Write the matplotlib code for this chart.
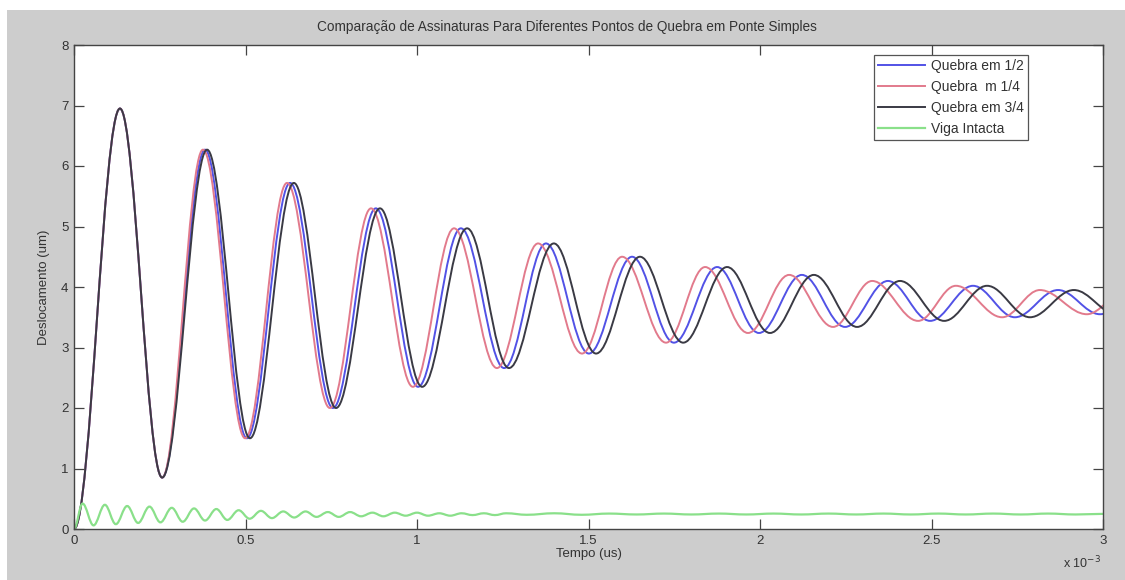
import matplotlib
matplotlib.use('Agg')
import matplotlib.pyplot as plt
from matplotlib.path import Path
from matplotlib.patches import PathPatch, Rectangle
from matplotlib.lines import Line2D

plt.rcParams['font.family'] = ['Liberation Sans', 'DejaVu Sans']

title = "Comparação de Assinaturas Para Diferentes Pontos de Quebra em Ponte Simples"
xlabel = "Tempo (us)"
ylabel = "Deslocamento (um)"
series_labels = ["Quebra em 1/2", "Quebra  m 1/4", "Quebra em 3/4", "Viga Intacta"]
x_ticks = [0, 0.5, 1, 1.5, 2, 2.5, 3]
x_tick_labels = ['0', '0.5', '1', '1.5', '2', '2.5', '3']
y_ticks = [0, 1, 2, 3, 4, 5, 6, 7, 8]
x_multiplier = r'x 10$^{-3}$'

# shared extrema values of the three damaged-beam signals
peak_vals = [6.95, 6.27, 5.72, 5.30, 4.97, 4.72, 4.50, 4.33, 4.20, 4.10, 4.02, 3.95, 3.90]
trough_vals = [0.85, 1.50, 2.00, 2.35, 2.66, 2.90, 3.08, 3.24, 3.34, 3.44, 3.50, 3.55, 3.58]

# extrema times (x 1e-3 s)
half_peaks = [0.134, 0.382, 0.630, 0.880, 1.128, 1.376, 1.627, 1.875, 2.122, 2.373, 2.621, 2.869, 3.117]
half_troughs = [0.257, 0.504, 0.755, 1.003, 1.254, 1.501, 1.749, 1.997, 2.248, 2.496, 2.743, 2.991, 3.240]
quarter_peaks = [0.134, 0.376, 0.621, 0.866, 1.108, 1.353, 1.598, 1.840, 2.085, 2.327, 2.571, 2.816, 3.060]
quarter_troughs = [0.257, 0.499, 0.746, 0.988, 1.233, 1.481, 1.726, 1.965, 2.213, 2.461, 2.706, 2.953, 3.190]
threeq_peaks = [0.134, 0.388, 0.641, 0.892, 1.146, 1.399, 1.650, 1.904, 2.157, 2.408, 2.662, 2.915, 3.168]
threeq_troughs = [0.257, 0.513, 0.764, 1.015, 1.268, 1.522, 1.776, 2.029, 2.283, 2.537, 2.787, 3.040, 3.290]

# intact beam extrema
green_t = [0, 0.025, 0.057, 0.090, 0.122, 0.155, 0.187, 0.220, 0.252, 0.285, 0.317, 0.350, 0.382,
           0.415, 0.447, 0.480, 0.512, 0.545, 0.577, 0.610, 0.642, 0.675, 0.707, 0.740, 0.772,
           0.805, 0.837, 0.870, 0.902, 0.935, 0.967, 1.000, 1.032, 1.065, 1.097, 1.130, 1.162,
           1.195, 1.227, 1.260,
           1.32, 1.40, 1.48, 1.56, 1.64, 1.72, 1.80, 1.88, 1.96, 2.04, 2.12, 2.20, 2.28, 2.36,
           2.44, 2.52, 2.60, 2.68, 2.76, 2.84, 2.92, 3.00]
green_v = [0, 0.42, 0.06, 0.40, 0.08, 0.38, 0.10, 0.37, 0.11, 0.35, 0.12, 0.34, 0.14,
           0.33, 0.15, 0.31, 0.17, 0.30, 0.18, 0.29, 0.19, 0.29, 0.20, 0.28, 0.20,
           0.28, 0.21, 0.27, 0.21, 0.27, 0.22, 0.27, 0.22, 0.26, 0.22, 0.26, 0.23,
           0.26, 0.23, 0.26,
           0.235, 0.26, 0.235, 0.255, 0.24, 0.255, 0.24, 0.255, 0.24, 0.255, 0.24, 0.255, 0.24, 0.255,
           0.24, 0.255, 0.24, 0.255, 0.24, 0.255, 0.24, 0.25]
assert len(green_t) == len(green_v)

colors = ['#5252e6', '#e27a8c', '#3a3a44', '#8ae08a']


def interleave(peaks, troughs):
    ts, vs = [0.0], [0.0]
    for p, tr, pv, tv in zip(peaks, troughs, peak_vals, trough_vals):
        ts += [p, tr]
        vs += [pv, tv]
    return ts, vs


def smooth_path(ts, vs, k=0.3642):
    verts = [(ts[0], vs[0])]
    codes = [Path.MOVETO]
    for i in range(1, len(ts)):
        t0, t1 = ts[i - 1], ts[i]
        v0, v1 = vs[i - 1], vs[i]
        d = t1 - t0
        verts += [(t0 + k * d, v0), (t1 - k * d, v1), (t1, v1)]
        codes += [Path.CURVE4] * 3
    return Path(verts, codes)


fig = plt.figure(figsize=(11.25, 5.8), dpi=100, facecolor='white')
fig.patches.append(Rectangle((7 / 1125, 0), 1, 570 / 580, transform=fig.transFigure,
                             facecolor='#cdcdcd', edgecolor='none', zorder=-10))
ax = fig.add_axes([74 / 1125, 51 / 580, 1029 / 1125, 484 / 580])
ax.set_facecolor('white')

series = [interleave(half_peaks, half_troughs),
          interleave(quarter_peaks, quarter_troughs),
          interleave(threeq_peaks, threeq_troughs),
          (green_t, green_v)]
lws = [1.4, 1.4, 1.4, 1.6]
for (ts, vs), c, lw in zip(series, colors, lws):
    ax.add_patch(PathPatch(smooth_path(ts, vs), facecolor='none', edgecolor=c, lw=lw))

ax.set_xlim(0, 3)
ax.set_ylim(0, 8)
ax.set_xticks(x_ticks)
ax.set_xticklabels(x_tick_labels)
ax.set_yticks(y_ticks)
txtc = '#333333'
ax.tick_params(direction='in', length=7, width=0.9, top=True, right=True,
               labelsize=9.5, colors='#444444', labelcolor=txtc, pad=4)
for s in ax.spines.values():
    s.set_color('#444444')
    s.set_linewidth(1.0)

fig.text(567 / 1125, 1 - 27 / 580, title, fontsize=9.8, color=txtc, ha='center', va='center')
ax.set_xlabel(xlabel, fontsize=9.5, color=txtc, labelpad=1)
ax.set_ylabel(ylabel, fontsize=9.5, color=txtc, labelpad=8)
fig.text(1082 / 1125, 1 - 563 / 580, x_multiplier, fontsize=9, color=txtc,
         ha='center', va='center')

handles = [Line2D([], [], color=c, lw=lw) for c, lw in zip(colors, lws)]
leg = ax.legend(handles, series_labels, loc='upper right', bbox_to_anchor=(0.927, 0.979),
                borderaxespad=0, fontsize=10, handlelength=3.4, labelspacing=0.5,
                borderpad=0.3, handletextpad=0.4, fancybox=False, framealpha=1,
                edgecolor='#555555')
leg.get_frame().set_linewidth(0.9)
for t in leg.get_texts():
    t.set_color(txtc)

fig.savefig('out.png', dpi=100, facecolor=fig.get_facecolor())
